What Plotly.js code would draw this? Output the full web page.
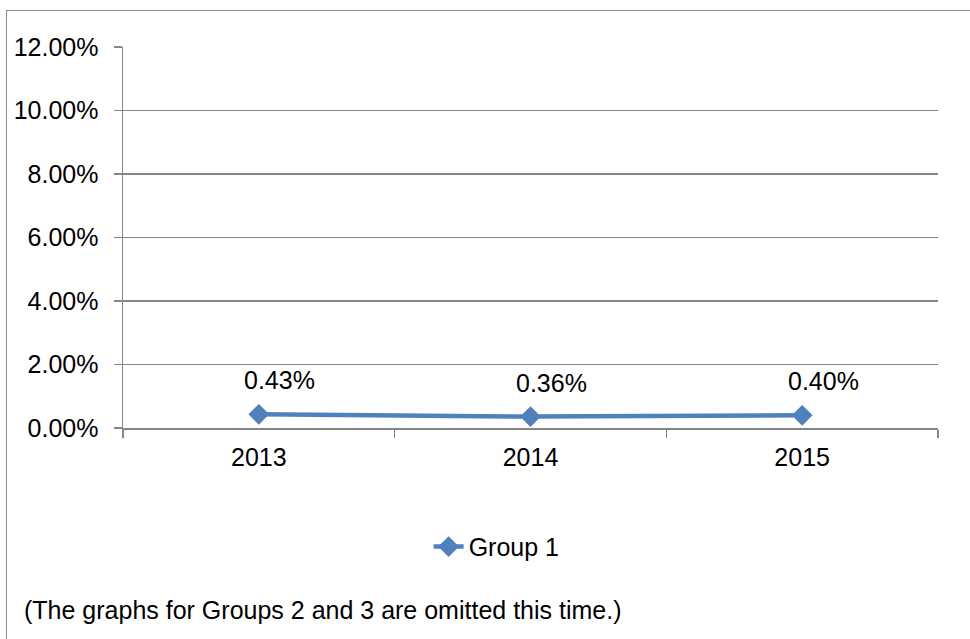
<!DOCTYPE html>
<html>
<head>
<meta charset="utf-8">
<script src="https://cdn.plot.ly/plotly-3.0.1.min.js"></script>
<style>
  html, body { margin: 0; padding: 0; background: #fff; }
  #wrap { position: relative; width: 970px; height: 639px; overflow: hidden; }
  #frame { position: absolute; left: 6px; top: 10px; width: 980px; height: 660px;
           border-top: 1.5px solid #8c8c8c; border-left: 1.5px solid #8c8c8c; }
  #chart { position: absolute; left: 0; top: 0; width: 970px; height: 639px; }
</style>
</head>
<body>
<div id="wrap">
  <div id="frame"></div>
  <div id="chart"></div>
</div>
<script>
const categories = ['2013', '2014', '2015'];
const group1 = [0.0043, 0.0036, 0.0040];
const seriesName = 'Group 1';
const footnote = '(The graphs for Groups 2 and 3 are omitted this time.)';

const blue = '#4F81BD';
const gray = '#868686';
const font = { family: 'Liberation Sans, Arial, sans-serif', size: 25, color: '#000' };

const trace = {
  x: categories,
  y: group1,
  type: 'scatter',
  mode: 'lines+markers',
  name: seriesName,
  line: { color: blue, width: 4.5 },
  marker: { symbol: 'diamond', size: 16, color: blue },
  hoverinfo: 'skip'
};

// category axis: annotations positioned by category index (numeric-looking names would be read as indices)
const labelAnnotations = categories.map((c, i) => ({
  x: i, y: group1[i], xref: 'x', yref: 'y',
  text: (group1[i] * 100).toFixed(2) + '%',
  showarrow: false, xanchor: 'center', yanchor: 'middle',
  xshift: 21, yshift: 34, font: font
}));

const layout = {
  width: 970, height: 639,
  paper_bgcolor: 'rgba(0,0,0,0)',
  plot_bgcolor: 'rgba(0,0,0,0)',
  margin: { l: 123, r: 32, t: 47, b: 211, pad: 0 },
  font: font,
  showlegend: true,
  legend: {
    x: 0.375, xanchor: 'left', y: -0.312, yanchor: 'middle',
    orientation: 'h', font: font, bgcolor: 'rgba(0,0,0,0)', borderwidth: 0
  },
  xaxis: {
    type: 'category',
    range: [-0.5, 2.5],
    showgrid: false, zeroline: false,
    showline: true, linecolor: gray, linewidth: 1.5,
    ticks: 'outside', tickson: 'boundaries', ticklen: 8, tickcolor: gray, tickwidth: 1.5,
    ticklabelstandoff: 6,
    tickfont: font, fixedrange: true
  },
  yaxis: {
    range: [0, 0.12], dtick: 0.02, tick0: 0,
    tickformat: '.2%',
    showgrid: true, gridcolor: gray, gridwidth: 1.5,
    zeroline: false,
    showline: true, linecolor: gray, linewidth: 1.5,
    ticks: 'outside', ticklen: 8, tickcolor: gray, tickwidth: 1.5,
    ticklabelstandoff: 10,
    tickfont: font, fixedrange: true
  },
  annotations: labelAnnotations.concat([{
    x: -0.1237, y: -0.478, xref: 'paper', yref: 'paper',
    text: footnote, showarrow: false, xanchor: 'left', yanchor: 'middle', font: font
  }])
};

Plotly.newPlot('chart', [trace], layout, { displayModeBar: false, staticPlot: true });
</script>
</body>
</html>
